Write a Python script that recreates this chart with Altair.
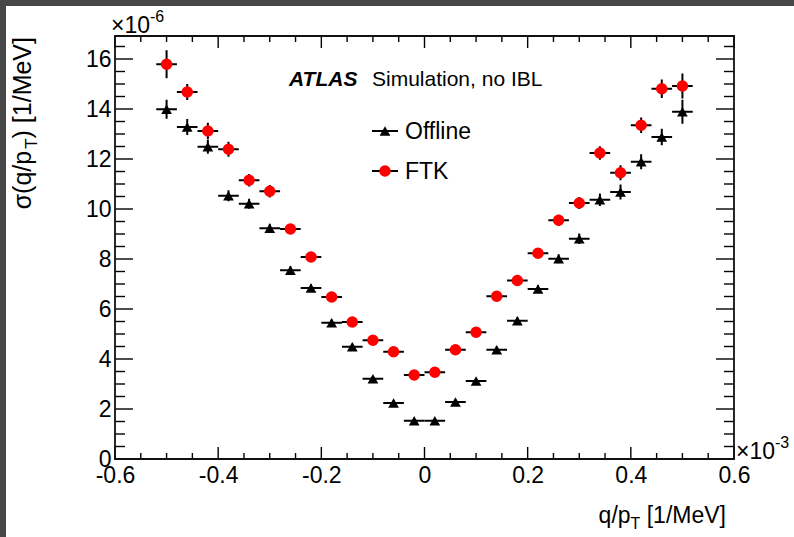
import altair as alt
import pandas as pd

# ---------------- data ----------------
series_names = ["Offline", "FTK"]
x_bins = [-0.50, -0.46, -0.42, -0.38, -0.34, -0.30, -0.26, -0.22, -0.18, -0.14, -0.10, -0.06, -0.02,
          0.02, 0.06, 0.10, 0.14, 0.18, 0.22, 0.26, 0.30, 0.34, 0.38, 0.42, 0.46, 0.50]
bin_half_width = 0.02
ftk_y = [15.79, 14.68, 13.12, 12.39, 11.15, 10.71, 9.20, 8.08, 6.48, 5.48, 4.75, 4.29, 3.36,
         3.47, 4.37, 5.07, 6.51, 7.14, 8.23, 9.55, 10.24, 12.24, 11.45, 13.35, 14.81, 14.92]
ftk_err = [0.56, 0.32, 0.33, 0.30, 0.25, 0.25, 0.20, 0.18, 0.16, 0.15, 0.14, 0.13, 0.12,
           0.12, 0.13, 0.14, 0.16, 0.17, 0.19, 0.22, 0.24, 0.27, 0.30, 0.31, 0.37, 0.50]
offline_y = [13.99, 13.28, 12.49, 10.53, 10.21, 9.23, 7.55, 6.84, 5.45, 4.49, 3.21, 2.24, 1.53,
             1.53, 2.28, 3.12, 4.37, 5.53, 6.80, 8.01, 8.81, 10.37, 10.68, 11.89, 12.88, 13.89]
offline_err = [0.38, 0.32, 0.28, 0.22, 0.20, 0.18, 0.16, 0.15, 0.13, 0.12, 0.11, 0.10, 0.09,
               0.09, 0.10, 0.11, 0.12, 0.14, 0.16, 0.18, 0.21, 0.25, 0.30, 0.30, 0.33, 0.48]

x_major = [-0.6, -0.4, -0.2, 0.0, 0.2, 0.4, 0.6]
x_minor = [-0.55, -0.5, -0.45, -0.35, -0.3, -0.25, -0.15, -0.1, -0.05,
           0.05, 0.1, 0.15, 0.25, 0.3, 0.35, 0.45, 0.5, 0.55]
y_major = [0, 2, 4, 6, 8, 10, 12, 14, 16]
y_minor = [0.5, 1, 1.5, 2.5, 3, 3.5, 4.5, 5, 5.5, 6.5, 7, 7.5, 8.5, 9, 9.5, 10.5, 11, 11.5,
           12.5, 13, 13.5, 14.5, 15, 15.5, 16.5]

rows = []
for name, ys, es in [("Offline", offline_y, offline_err), ("FTK", ftk_y, ftk_err)]:
    for xv, yv, ev in zip(x_bins, ys, es):
        rows.append({"series": name, "x": xv, "y": yv,
                     "xlo": xv - bin_half_width, "xhi": xv + bin_half_width,
                     "ylo": yv - ev, "yhi": yv + ev})
df = pd.DataFrame(rows)

# ---------------- layout ----------------
W, H = 619, 423
OX, OY = 115, 36
FONT = "Liberation Sans"

xs = alt.Scale(domain=[-0.6, 0.6], nice=False, zero=False)
ys = alt.Scale(domain=[0, 16.92], nice=False, zero=False)
x_axis = alt.Axis(values=x_major, title=None, grid=False, domain=False, ticks=False, zindex=2,
                  labelFlush=False, labelOverlap=False,
                  labelPadding=5, labelFontSize=23, labelFont=FONT, labelColor="black",
                  labelExpr="datum.value == 0 ? '0' : toString(round(datum.value*10)/10)")
y_axis = alt.Axis(values=y_major, title=None, grid=False, domain=False, ticks=False, zindex=2,
                  labelFlush=False, labelOverlap=False,
                  labelPadding=4, labelFontSize=23, labelFont=FONT, labelColor="black", format="d")


def X(f):
    return alt.X(f, type="quantitative", scale=xs, axis=x_axis)


def Y(f):
    return alt.Y(f, type="quantitative", scale=ys, axis=y_axis)


one = pd.DataFrame({"a": [0]})

bg = alt.Chart(one).mark_rect(color="white").encode(
    x=alt.value(6 - OX), x2=alt.value(794 - OX), y=alt.value(6 - OY), y2=alt.value(537 - OY))

frame = alt.Chart(one).mark_rect(filled=False, stroke="#111111", strokeWidth=1.8).encode(
    x=alt.value(0), x2=alt.value(W), y=alt.value(0), y2=alt.value(H))

dfx_maj = pd.DataFrame({"v": x_major})
dfx_min = pd.DataFrame({"v": x_minor})
dfy_maj = pd.DataFrame({"v": y_major})
dfy_min = pd.DataFrame({"v": y_minor})

tick_style = dict(color="black", strokeWidth=1.4)
ticks = [
    alt.Chart(dfx_maj).mark_rule(**tick_style).encode(x=X("v"), y=alt.value(H), y2=alt.value(H - 12)),
    alt.Chart(dfx_min).mark_rule(**tick_style).encode(x=X("v"), y=alt.value(H), y2=alt.value(H - 6)),
    alt.Chart(dfx_maj).mark_rule(**tick_style).encode(x=X("v"), y=alt.value(0), y2=alt.value(12)),
    alt.Chart(dfx_min).mark_rule(**tick_style).encode(x=X("v"), y=alt.value(0), y2=alt.value(6)),
    alt.Chart(dfy_maj).mark_rule(**tick_style).encode(y=Y("v"), x=alt.value(0), x2=alt.value(18)),
    alt.Chart(dfy_min).mark_rule(**tick_style).encode(y=Y("v"), x=alt.value(0), x2=alt.value(10)),
    alt.Chart(dfy_maj).mark_rule(**tick_style).encode(y=Y("v"), x=alt.value(W), x2=alt.value(W - 18)),
    alt.Chart(dfy_min).mark_rule(**tick_style).encode(y=Y("v"), x=alt.value(W), x2=alt.value(W - 10)),
]

hbar = alt.Chart(df).mark_rule(color="black", strokeWidth=2).encode(
    x=X("xlo"), x2="xhi", y=Y("y"))
vbar = alt.Chart(df).mark_rule(color="black", strokeWidth=2).encode(
    x=X("x"), y=Y("ylo"), y2="yhi")
pts = alt.Chart(df).mark_point(filled=True, opacity=1, strokeWidth=0).encode(
    x=X("x"), y=Y("y"),
    shape=alt.Shape("series:N", scale=alt.Scale(domain=series_names, range=["triangle-up", "circle"]), legend=None),
    color=alt.Color("series:N", scale=alt.Scale(domain=series_names, range=["black", "#ff0000"]), legend=None),
    size=alt.Size("series:N", scale=alt.Scale(domain=series_names, range=[115, 135]), legend=None),
)

# ---------------- text helpers ----------------
ARIAL = {' ': 278, '(': 333, ')': 333, '[': 278, ']': 278, '/': 278, 'q': 556, 'p': 556, 'M': 833,
         'e': 556, 'V': 667, 'T': 611, 'σ': 570, '1': 556, '0': 556, '×': 584}


def tw(s, size):
    return sum(ARIAL[c] for c in s) / 1000.0 * size


def txt(s, x, y, size, align="left", baseline="alphabetic", angle=0, style="normal", weight="normal"):
    kw = dict(text=s, font=FONT, fontSize=size, align=align, baseline=baseline,
              fontStyle=style, fontWeight=weight, color="black")
    if angle:
        kw["angle"] = angle
    return alt.Chart(one).mark_text(**kw).encode(x=alt.value(x - OX), y=alt.value(y - OY))


texts = []
# ATLAS label
texts.append(txt("ATLAS", 289, 86, 21, style="italic", weight="bold"))
texts.append(txt("Simulation, no IBL", 372, 86, 21))

# legend
leg_y = {"Offline": 131, "FTK": 171}
leg_shape = {"Offline": "triangle-up", "FTK": "circle"}
leg_color = {"Offline": "black", "FTK": "#ff0000"}
leg_size = {"Offline": 115, "FTK": 135}
legend_layers = []
for name in series_names:
    yy = leg_y[name] - OY
    legend_layers.append(alt.Chart(one).mark_rule(color="black", strokeWidth=2).encode(
        x=alt.value(372 - OX), x2=alt.value(398 - OX), y=alt.value(yy)))
    legend_layers.append(alt.Chart(one).mark_point(filled=True, opacity=1, strokeWidth=0,
                                                   shape=leg_shape[name], color=leg_color[name],
                                                   size=leg_size[name]).encode(
        x=alt.value(385 - OX), y=alt.value(yy)))
    legend_layers.append(txt(name, 405, leg_y[name] + 8, 23))

# exponents
texts.append(txt("×10", 111, 33, 23))
texts.append(txt("-6", 111 + tw("×10", 23), 22, 16))
texts.append(txt("×10", 736, 459, 23))
texts.append(txt("-3", 736 + tw("×10", 23), 448, 16))

# x title  q/p_T [1/MeV]
xf, xs_sub = 23, 16
x_end = 726
p3 = " [1/MeV]"
texts.append(txt(p3, x_end, 523, xf, align="right"))
tx = x_end - tw(p3, xf)
texts.append(txt("T", tx, 529, xs_sub, align="right"))
tx -= tw("T", xs_sub)
texts.append(txt("q/p", tx, 523, xf, align="right"))

# y title  σ(q/p_T) [1/MeV]  (rotated)
yf, ys_sub = 25, 17
base_x = 31
yy = 37
q3 = ") [1/MeV]"
texts.append(txt(q3, base_x, yy, yf, align="right", angle=270))
yy += tw(q3, yf)
texts.append(txt("T", base_x + 6, yy, ys_sub, align="right", angle=270))
yy += tw("T", ys_sub) + 2
texts.append(txt("σ(q/p", base_x, yy, yf, align="right", angle=270))

chart = alt.layer(bg, *ticks, frame, hbar, vbar, pts, *legend_layers, *texts).properties(
    width=W, height=H,
    autosize=alt.AutoSizeParams(type="none"),
    padding={"left": OX, "top": OY, "right": 794 - OX - W, "bottom": 537 - OY - H},
    background="#474747",
).configure_view(stroke=None)

chart.save("out.html", embed_options={"renderer": "svg", "actions": False})
